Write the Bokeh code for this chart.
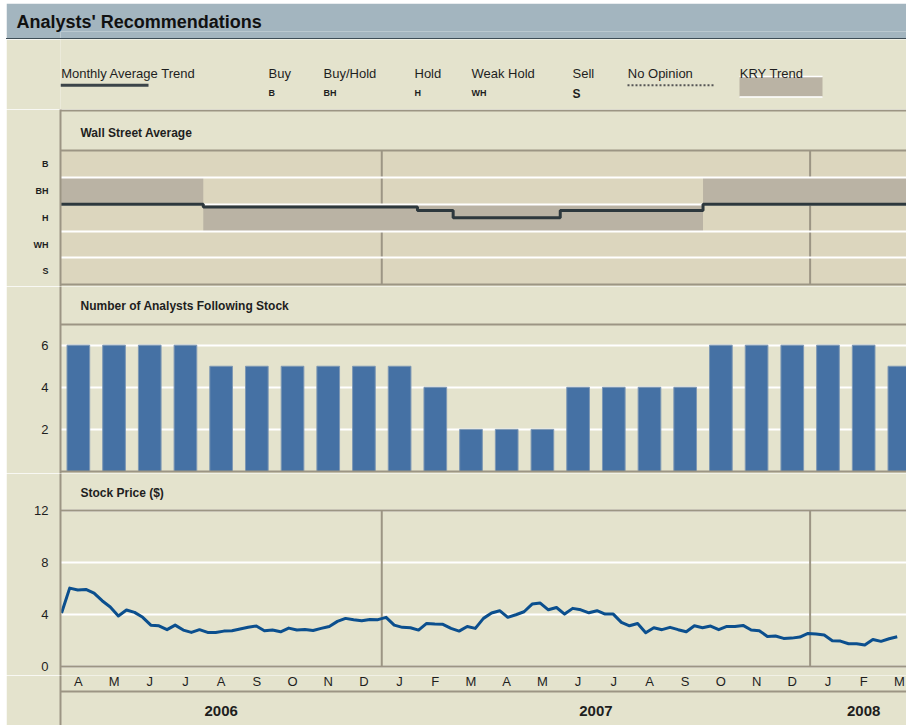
import numpy as np
from bokeh.plotting import figure
from bokeh.layouts import column, row
from bokeh.models import Range1d, FixedTicker, Label, Spacer
from bokeh.core.properties import value
from bokeh.embed import file_html
from bokeh.resources import INLINE

# ---------------- data ----------------
month_labels = ["A", "M", "J", "J", "A", "S", "O", "N", "D",
                "J", "F", "M", "A", "M", "J", "J", "A", "S", "O", "N", "D",
                "J", "F", "M"]
month_years = [2006] * 9 + [2007] * 12 + [2008] * 3
years = [2006, 2007, 2008]

rating_codes = ["B", "BH", "H", "WH", "S"]
rating_names = ["Buy", "Buy/Hold", "Hold", "Weak Hold", "Sell"]

# monthly average trend (1 = Buy ... 5 = Sell)
wall_street_avg = [2.5, 2.5, 2.5, 2.5, 2.6, 2.6, 2.6, 2.6, 2.6, 2.6, 2.73, 3.0,
                   3.0, 3.0, 2.73, 2.73, 2.73, 2.73, 2.5, 2.5, 2.5, 2.5, 2.5, 2.5]
# KRY trend rating per month
kry_rating = [2, 2, 2, 2, 3, 3, 3, 3, 3, 3, 3, 3,
              3, 3, 3, 3, 3, 3, 2, 2, 2, 2, 2, 2]
# number of analysts following stock
analysts = [6, 6, 6, 6, 5, 5, 5, 5, 5, 5, 4, 2,
            2, 2, 4, 4, 4, 4, 6, 6, 6, 6, 6, 5]
count_ticks = [2, 4, 6]
count_top = 7

# weekly stock price ($)
price = [4.13, 6.05, 5.9, 5.95, 5.67, 5.08, 4.6, 3.9, 4.36, 4.18,
         3.8, 3.2, 3.15, 2.85, 3.2, 2.82, 2.64, 2.85, 2.64, 2.64,
         2.74, 2.77, 2.9, 3.03, 3.13, 2.77, 2.82, 2.69, 2.97, 2.82,
         2.87, 2.79, 2.95, 3.1, 3.49, 3.72, 3.62, 3.54, 3.64, 3.62,
         3.8, 3.2, 3.03, 3.0, 2.82, 3.33, 3.28, 3.26, 2.95,
         2.74, 3.1, 2.95, 3.72, 4.13, 4.31, 3.8, 4.0, 4.23, 4.82,
         4.9, 4.38, 4.56, 4.05, 4.49, 4.38, 4.15, 4.31, 4.05, 4.05,
         3.41, 3.15, 3.33, 2.62, 3.0, 2.85, 3.03, 2.85, 2.69, 3.15,
         3.0, 3.13, 2.85, 3.1, 3.1, 3.18, 2.82, 2.77, 2.33, 2.36,
         2.18, 2.2, 2.28, 2.56, 2.51, 2.44, 2.0, 1.97, 1.77, 1.77,
         1.67, 2.1, 1.95, 2.15, 2.31]
price_first_x, price_last_x = 0.03, 23.44   # in months from Apr 1, 2006
price_ticks = [0, 4, 8, 12]

# ---------------- style ----------------
BG = "#E4E3CD"
BAND = "#DCD6BE"
KRY = "#BAB3A4"
GRAY = "#9C9584"
TREND = "#2D383D"
BAR = "#4571A4"
BAR_EDGE = "#7E98B4"
PRICE = "#0B4F8E"
HEADER = "#A3B5BF"
HEADER_LINE = "#3E4D56"
TXT = "#1E1E1E"
FONT = "Liberation Sans"
PAD_X, PAD_Y = 6, 3
W = 906 - PAD_X
LEFT = 60 - PAD_X
X_END = 23.70

n = len(month_labels)
edges = np.arange(n + 1)
centers = np.arange(n) + 0.5
year_bounds = [i for i in range(1, n) if month_years[i] != month_years[i - 1]]
year_centers = [np.mean([i for i in range(n) if month_years[i] == y]) + 0.5 for y in years]


def base(height, xr, yr, bg=BG, border=BG):
    p = figure(width=W, height=height, x_range=xr, y_range=yr,
               output_backend="svg", toolbar_location=None, x_axis_location=None,
               min_border=0, min_border_left=LEFT, background_fill_color=bg,
               border_fill_color=border, outline_line_color=None)
    return p


def panel(height, y0, y1):
    p = base(height, Range1d(0, X_END), Range1d(y0, y1))
    p.xgrid.visible = False
    ax = p.yaxis[0]
    ax.axis_line_color = GRAY
    ax.axis_line_width = 2
    ax.major_tick_line_color = None
    ax.minor_tick_line_color = None
    ax.major_label_standoff = 6
    ax.major_label_text_font = FONT
    ax.major_label_text_color = TXT
    return p


def title(p, y, text):
    p.add_layout(Label(x=0.56, y=y, text=text, text_font=FONT, text_font_style="bold",
                       text_font_size="12px", text_baseline="middle", text_color=TXT))


# ---------------- header bar ----------------
h0 = figure(width=W, height=35, x_range=Range1d(60, 906), y_range=Range1d(38, 3),
            output_backend="svg", toolbar_location=None, x_axis_location=None,
            y_axis_location=None, min_border=0, min_border_left=LEFT, min_border_top=28,
            background_fill_color=HEADER, border_fill_color=HEADER,
            outline_line_color=None, title="Analysts' Recommendations")
h0.grid.visible = False
h0.title.text_font = FONT
h0.title.text_font_style = "bold"
h0.title.text_font_size = "18px"
h0.title.text_color = "#111111"
h0.title.align = "left"
h0.title.offset = 16 - 60
h0.title.standoff = 0

header_rule = Spacer(width=W, height=1, styles={"background-color": HEADER_LINE})

# ---------------- legend ----------------
h1 = base(70, Range1d(60, 906), Range1d(109, 39))
h1.grid.visible = False
h1.yaxis.visible = False
h1.text(x=[60.7], y=[73.3], text=["Monthly Average Trend"], text_font=value(FONT),
        text_font_size="13px", text_baseline="alphabetic", text_color=TXT)
h1.segment(x0=[60], x1=[148], y0=[84.7], y1=[84.7], line_color="#3B4449", line_width=3)

legend_x = [268, 323, 414, 471, 572]
h1.text(x=legend_x, y=[73.3] * 5, text=rating_names, text_font=value(FONT),
        text_font_size="13px", text_baseline="alphabetic", text_color=TXT)
h1.text(x=legend_x[:4], y=[92.7] * 4, text=rating_codes[:4], text_font=value(FONT),
        text_font_style="bold", text_font_size="9px", text_baseline="alphabetic", text_color=TXT)
h1.text(x=legend_x[4:], y=[93.5], text=rating_codes[4:], text_font=value(FONT),
        text_font_style="bold", text_font_size="12px", text_baseline="alphabetic", text_color=TXT)

h1.text(x=[627.3], y=[73.3], text=["No Opinion"], text_font=value(FONT),
        text_font_size="13px", text_baseline="alphabetic", text_color=TXT)
h1.segment(x0=[627], x1=[715], y0=[84.7], y1=[84.7], line_color="#555555",
           line_width=2, line_dash="2 2")

h1.quad(left=739, right=822, top=76.5, bottom=96.3, fill_color=KRY, line_color=None)
h1.segment(x0=[739, 739], x1=[822, 822], y0=[76, 96.5], y1=[76, 96.5], line_color="white", line_width=1.5)
h1.text(x=[739.3], y=[73.3], text=["KRY Trend"], text_font=value(FONT),
        text_font_size="13px", text_baseline="alphabetic", text_color=TXT)

# ---------------- Wall Street Average ----------------
px_per_rating = 26.86
r_top = 0.5 - 41 / px_per_rating
r_bot = len(rating_codes) + 0.5 + 1.7 / px_per_rating
p1 = panel(177, r_bot, r_top)
p1.ygrid.visible = False
p1.yaxis.ticker = FixedTicker(ticks=list(range(1, len(rating_codes) + 1)))
p1.yaxis.major_label_overrides = {i + 1: c for i, c in enumerate(rating_codes)}
p1.yaxis.major_label_text_font_style = "bold"
p1.yaxis.major_label_text_font_size = "9px"
title(p1, 0.5 - 17.3 / px_per_rating, "Wall Street Average")

p1.quad(left=0, right=n, top=0.5, bottom=len(rating_codes) + 0.5, fill_color=BAND, line_color=None)
p1.segment(x0=year_bounds, x1=year_bounds, y0=[0.5] * len(year_bounds),
           y1=[len(rating_codes) + 0.5] * len(year_bounds), line_color=GRAY, line_width=2)
kry_ext = list(kry_rating) + [kry_rating[-1]]
p1.varea_step(x=edges, y1=[k - 0.5 for k in kry_ext], y2=[k + 0.5 for k in kry_ext],
              step_mode="after", fill_color=KRY)
p1.hspan(y=[i + 1.5 for i in range(len(rating_codes) - 1)], line_color="white", line_width=2)
p1.hspan(y=[0.5 - 40 / px_per_rating, 0.5, len(rating_codes) + 0.5], line_color=GRAY, line_width=2)
trend_ext = list(wall_street_avg) + [wall_street_avg[-1]]
p1.step(x=edges, y=trend_ext, mode="after", line_color=TREND, line_width=3)

# ---------------- Number of analysts ----------------
px_per_count = 21.05
p2 = panel(187, -2 / px_per_count, 185 / px_per_count)
tk = FixedTicker(ticks=count_ticks)
p2.yaxis.ticker = tk
p2.ygrid.ticker = tk
p2.ygrid.grid_line_color = "white"
p2.ygrid.grid_line_width = 2
p2.yaxis.major_label_text_font_size = "13px"
title(p2, count_top + 18 / px_per_count, "Number of Analysts Following Stock")
p2.vbar(x=centers, top=analysts, width=0.635, bottom=0, fill_color=BAR, line_color=BAR_EDGE, line_width=1)
p2.hspan(y=[0, count_top], line_color=GRAY, line_width=2)

# ---------------- Stock price ----------------
px_per_dollar = 12.99
p3 = panel(202, -8.8 / px_per_dollar, 193.2 / px_per_dollar)
tk3 = FixedTicker(ticks=price_ticks)
p3.yaxis.ticker = tk3
p3.ygrid.ticker = tk3
p3.ygrid.grid_line_color = "white"
p3.ygrid.grid_line_width = 2
p3.yaxis.major_label_text_font_size = "13px"
title(p3, price_ticks[-1] + 17.6 / px_per_dollar, "Stock Price ($)")
p3.hspan(y=[price_ticks[0], price_ticks[-1]], line_color=GRAY, line_width=2)
p3.segment(x0=year_bounds, x1=year_bounds, y0=[price_ticks[0]] * len(year_bounds),
           y1=[price_ticks[-1]] * len(year_bounds), line_color=GRAY, line_width=2)
price_x = np.linspace(price_first_x, price_last_x, len(price))
p3.line(x=price_x, y=price, line_color=PRICE, line_width=3, line_join="round")

# ---------------- month / year labels ----------------
p4 = panel(50, 725, 675)
p4.ygrid.visible = False
p4.yaxis.ticker = FixedTicker(ticks=[])
p4.yaxis.major_label_text_font_size = "0px"
p4.text(x=centers, y=[680.5] * n, text=month_labels, text_font=value(FONT),
        text_font_size="13px", text_align="center", text_baseline="middle", text_color=TXT)
p4.hspan(y=[691], line_color=GRAY, line_width=2)
p4.text(x=year_centers, y=[710] * len(years), text=[str(y) for y in years], text_font=value(FONT),
        text_font_style="bold", text_font_size="15px", text_align="center",
        text_baseline="middle", text_color=TXT)

stack = column(Spacer(width=W, height=PAD_Y), h0, header_rule, h1, p1, p2, p3, p4, spacing=0)
layout = row(Spacer(width=PAD_X, height=725), stack, spacing=0)
open("out.html", "w").write(file_html(layout, INLINE))
